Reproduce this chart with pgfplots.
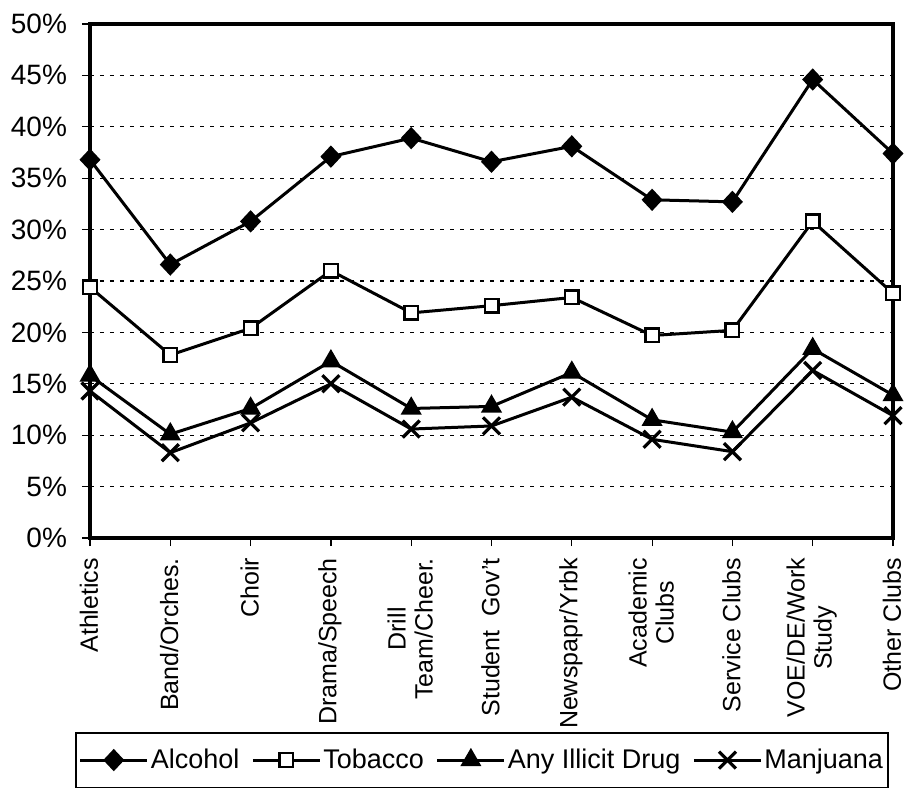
\documentclass[border=0pt]{standalone}
\usepackage{pgfplots}
\pgfplotsset{compat=1.18}
\usepackage{fontspec}
\setmainfont{Liberation Sans}
\begin{document}
\begin{tikzpicture}
\begin{axis}[
  name=ax,
  scale only axis,
  width=401.5pt, height=257pt,
  xmin=0, xmax=10, ymin=0, ymax=50,
  xtick={0,...,10},
  xticklabels={Athletics, Band/Orches., Choir, Drama/Speech, Drill\\Team/Cheer., Student~~Gov't, Newspapr/Yrbk, Academic\\Clubs, Service Clubs, VOE/DE/Work\\Study, Other Clubs},
  ytick={0,5,...,50},
  yticklabels={0\%,5\%,10\%,15\%,20\%,25\%,30\%,35\%,40\%,45\%,50\%},
  ymajorgrids,
  grid style={black, line width=0.6pt, dash pattern=on 2pt off 3pt},
  axis line style={line width=1.6pt},
  tick align=outside,
  tick pos=left,
  major tick length=4pt,
  tick style={black, line width=0.6pt},
  x tick label style={rotate=90, anchor=east, align=center, xshift=-2.5pt, yshift=0.5pt, font=\fontsize{12.5}{13.5}\selectfont},
  y tick label style={xshift=-4pt, font=\fontsize{14}{16}\selectfont},
  legend columns=4,
  legend style={at={(-0.0187,-0.3774)}, anchor=north west, draw=black, line width=0.8pt,
    font=\fontsize{13.5}{16}\selectfont, inner xsep=1.5pt, inner ysep=7pt,
    nodes={inner sep=1pt},
    /tikz/every even column/.append style={column sep=5pt}},
  legend image code/.code={\draw[mark repeat=2,mark phase=2,#1] plot coordinates {(0pt,0pt) (16.75pt,0pt) (33.5pt,0pt)};},
]
\addplot[black, line width=1.5pt, mark=diamond*, mark size=4.5pt, mark options={solid, xscale=1.25}] coordinates {
(0,36.8) (1,26.6) (2,30.8) (3,37.1) (4,38.9) (5,36.6) (6,38.1) (7,32.9) (8,32.7) (9,44.6) (10,37.4)};
\addlegendentry{Alcohol}
\addplot[black, line width=1.5pt, mark=square*, mark size=3.4pt, mark options={solid, fill=white, line width=1.2pt}] coordinates {
(0,24.4) (1,17.8) (2,20.4) (3,26.0) (4,21.9) (5,22.6) (6,23.4) (7,19.7) (8,20.2) (9,30.8) (10,23.8)};
\addlegendentry{Tobacco}
\addplot[black, line width=1.5pt, mark=triangle*, mark size=4.6pt, mark options={solid}] coordinates {
(0,15.8) (1,10.1) (2,12.6) (3,17.2) (4,12.6) (5,12.8) (6,16.1) (7,11.5) (8,10.3) (9,18.4) (10,13.9)};
\addlegendentry{Any Illicit Drug}
\addplot[black, line width=1.5pt, mark=x, mark size=6pt, mark options={solid, line width=1.6pt}] coordinates {
(0,14.3) (1,8.3) (2,11.2) (3,15.0) (4,10.6) (5,10.9) (6,13.7) (7,9.6) (8,8.4) (9,16.3) (10,11.9)};
\addlegendentry{Manjuana}
\end{axis}
\pgfresetboundingbox
\path[use as bounding box] ([shift={(-45pt,-125.5pt)}]ax.south west) rectangle ([shift={(407pt,269pt)}]ax.south west);
\end{tikzpicture}
\end{document}
